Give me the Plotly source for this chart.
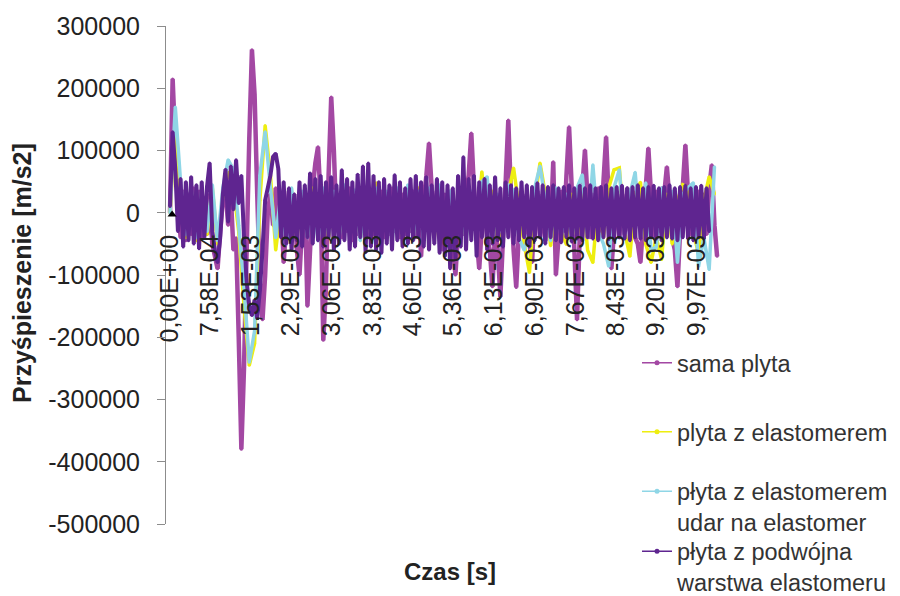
import plotly.graph_objects as go

# ---------------- data (values in thousands of m/s2) ----------------
DT_FINE = 5e-5      # sampling step of "sama plyta" and "podwojna" series [s]
DT_COARSE = 1e-4    # sampling step of the two elastomer series [s]

SERIES_NAMES = [
    "sama plyta",
    "plyta z elastomerem",
    "płyta z elastomerem<br>udar na elastomer",
    "płyta z podwójna<br>warstwa elastomeru",
]

sama_plyta_k = [
    0, 215, 110, 20, -40, 35, -45, 30, -35, 40,
    -30, 35, -40, 25, -35, 30, -50, -70, -90, -30,
    20, 40, -20, 30, -60, -40, -200, -380, -250, -60,
    120, 262, 190, 30, -110, -172, -100, 0, 30, -20,
    40, -30, 25, -80, -20, 35, -40, 30, -60, -100,
    -20, 30, -150, -60, 40, 80, 106, 20, -205, -120,
    60, 186, 100, -20, 30, -40, 35, -30, 40, -45,
    30, -35, 40, -30, 35, -40, 30, -35, 40, -30,
    35, -40, 30, -35, 40, -30, 35, -40, 30, -35,
    40, -30, 35, -40, 30, -70, 20, 60, 112, 40,
    -30, 35, -40, -60, 30, -45, 35, -50, -100, -30,
    40, -35, 30, 60, 128, 40, -40, -90, -20, 30,
    -40, -60, -119, -30, -60, -135, -40, 50, 149, 30,
    -60, -120, -30, 35, -40, 30, -50, -80, 20, 35,
    -40, 30, -45, 30, -30, 82, -100, -40, 35, -30,
    60, 138, 40, -60, -172, -40, 40, 101, 20, -40,
    30, -35, 40, -30, 50, 122, 20, -90, -30, 35,
    -40, 30, -35, 40, -30, 35, -40, -50, -80, -20,
    40, 104, 30, -40, 35, -30, 40, 30, 74, 20,
    -40, -60, -119, -30, 40, 109, 30, -35, 40, -30,
    35, -40, 30, -35, 40, 77, -20, -70,
]

plyta_elastomer_k = [
    0, 140, 30, -40, 35, -45, 30, -35, 40, -50,
    30, 65, 40, -30, -150, -245, -210, 20, 140, 60,
    -60, 10, -30, 35, -40, 30, -35, 40, -30, 35,
    -40, 30, -35, 40, -30, 35, -40, 30, -35, 48,
    -43, 30, -35, 35, -40, 30, -35, 40, -30, 35,
    -40, 42, -35, 30, -45, 35, -40, 30, -35, 66,
    -20, 35, -40, -32, 30, 72, 10, -50, -96, 20,
    80, 30, -53, 20, -30, -51, 30, -40, 40, -60,
    -80, 20, -40, 40, 69, 72, -30, -70, 30, 49,
    -50, -80, -40, -75, 30, -50, 20, 45, 40, -30,
    -67, 20, 58, 30,
]

udar_na_elastomer_k = [
    0, 170, 50, -35, 40, -40, 35, -30, 45, -45,
    40, 85, 70, -20, -120, -240, -190, 60, 130, 40,
    -40, 30, -50, 40, -35, 35, -40, 30, -45, 40,
    -35, 35, -40, 45, -30, 37, -45, 40, -35, 40,
    -40, 35, -45, 40, -35, 45, -40, 35, -45, 40,
    -35, 45, -40, 35, -50, 40, -45, 35, -40, 50,
    58, -48, 30, -40, 45, 35, -40, -60, -30, 40,
    75, 20, -45, 40, -40, 30, -45, 40, 61, -40,
    77, -30, -50, -86, 40, 69, -35, 30, 65, -40,
    48, -60, -55, 40, -40, 35, -80, 30, 40, 48,
    -86, -40, -91, 74,
]

podwojna_warstwa_k = [
    10, 130, 70, -30, 55, -55, 50, -45, 58, -50,
    45, -58, 50, -40, 42, 80, -30, -60, -80, -40,
    30, 70, -15, 75, 5, 85, 15, 60, -40, -110,
    -150, -165, -140, -170, -125, -60, 20, 40, 60, 90,
    95, 70, -40, 50, -50, 40, -60, 30, -45, 50,
    -55, 45, -40, 64, -50, 55, -45, 60, -55, 50,
    -40, 58, -60, 45, -50, 69, -45, 55, -60, 50,
    -55, 62, -40, 75, -64, 80, -55, 60, -60, 50,
    -65, 55, -50, 45, -60, 61, -45, 50, -55, 40,
    -50, 55, -45, 60, -40, 50, -55, 58, -60, 45,
    -50, 55, -65, 50, -70, 45, -90, 40, -75, 60,
    -55, 90, -60, 55, -45, 60, -70, 50, -40, 55,
    -60, 45, -50, 58, -45, 40, -55, 50, -40, 45,
    -50, 40, -45, 50, -40, 45, -55, 42, -45, 48,
    -40, 45, -50, 42, -40, 45, -45, 40, -48, 42,
    -40, 45, -47, 40, -42, 44, -45, 40, -40, 45,
    -42, 40, -45, 42, -40, 45, -43, 40, -45, 42,
    -40, 44, -42, 40, -45, 42, -40, 45, -42, 40,
    -45, 42, -40, 44, -42, 40, -45, 42, -40, 45,
    -42, 40, -45, 42, -40, 44, -42, 40, -45, 42,
    -40, 44, -42, 40, -30,
]

X_TICK_VALUES = [0.0, 7.58e-4, 1.53e-3, 2.29e-3, 3.06e-3, 3.83e-3, 4.60e-3,
                 5.36e-3, 6.13e-3, 6.90e-3, 7.67e-3, 8.43e-3, 9.20e-3, 9.97e-3]
X_TICK_LABELS = ["0,00E+00", "7,58E-04", "1,53E-03", "2,29E-03", "3,06E-03",
                 "3,83E-03", "4,60E-03", "5,36E-03", "6,13E-03", "6,90E-03",
                 "7,67E-03", "8,43E-03", "9,20E-03", "9,97E-03"]
Y_TICK_VALUES = [300000, 200000, 100000, 0, -100000, -200000, -300000, -400000, -500000]

COLORS = ["#a348a3", "#eeee10", "#8fd6e6", "#5f2590"]
FONT = "Liberation Sans, Arial, sans-serif"


def times(n, step):
    return [i * step for i in range(n)]


def to_ms2(vals_k):
    return [v * 1000 for v in vals_k]


series = [
    (sama_plyta_k, DT_FINE),
    (plyta_elastomer_k, DT_COARSE),
    (udar_na_elastomer_k, DT_COARSE),
    (podwojna_warstwa_k, DT_FINE),
]

# ---------------- layout geometry ----------------
W, H = 900, 596
L, R, T, B = 166, 180, 26, 72
PW = W - L - R
PH = H - T - B
PX_PER_S = 52860.0           # horizontal scale (px per second)
X0_PX = 170                  # pixel of t = 0
x_range = [(L - X0_PX) / PX_PER_S, (W - R - X0_PX) / PX_PER_S]


def px_to_paper_x(px):
    return (px - L) / PW


def px_to_paper_y(py):
    return (H - B - py) / PH


fig = go.Figure()

legend_ids = ["legend", "legend2", "legend3", "legend4"]
widths = [4.5, 3.5, 3.5, 4.0]
for (vals, step), name, color, w in zip(series, SERIES_NAMES, COLORS, widths):
    fig.add_trace(go.Scatter(
        x=times(len(vals), step), y=to_ms2(vals),
        mode="lines+markers", name=name.replace("<br>", " "),
        line=dict(color=color, width=w, simplify=False),
        marker=dict(color=color, size=3),
        showlegend=False,
    ))

# legend entries (thin line with a dot, like the original key)
for name, color, lg in zip(SERIES_NAMES, COLORS, legend_ids):
    fig.add_trace(go.Scatter(
        x=[None], y=[None], mode="lines+markers", name=name,
        line=dict(color=color, width=1.5),
        marker=dict(color=color, size=5),
        legend=lg, showlegend=True,
    ))

# small black marker at the origin
fig.add_trace(go.Scatter(x=[0.00004], y=[-3000], mode="markers",
                         marker=dict(symbol="triangle-up", size=8, color="black"),
                         showlegend=False, hoverinfo="skip"))

legend_centers_px = [363, 432, 507, 567]
legend_common = dict(
    x=px_to_paper_x(637), xanchor="left", yanchor="middle",
    bgcolor="rgba(0,0,0,0)", borderwidth=0,
    font=dict(family=FONT, size=23.5, color="#333333"),
    valign="top", itemwidth=30, tracegroupgap=0,
)
layout_legends = {}
for lg, cy in zip(legend_ids, legend_centers_px):
    layout_legends[lg] = dict(legend_common, y=px_to_paper_y(cy))

zero_pos = (0 - (-500000)) / 800000.0

fig.update_layout(
    template="none",
    width=W, height=H,
    margin=dict(l=L, r=R, t=T, b=B, pad=0, autoexpand=False),
    paper_bgcolor="white", plot_bgcolor="white",
    showlegend=True,
    font=dict(family=FONT, color="#333333"),
    xaxis=dict(
        range=x_range, anchor="free", position=zero_pos,
        tickmode="array", tickvals=X_TICK_VALUES, ticktext=X_TICK_LABELS,
        tickangle=-90, ticks="", ticklabelstandoff=16,
        tickfont=dict(family=FONT, size=25, color="#222222"),
        showline=False,
        showgrid=False, zeroline=False, automargin=False,
        layer="above traces",
    ),
    yaxis=dict(
        range=[-500000, 300000],
        tickmode="array", tickvals=Y_TICK_VALUES,
        ticktext=[str(v) for v in Y_TICK_VALUES],
        ticks="outside", ticklen=8, tickcolor="#8c8c8c", tickwidth=1,
        ticklabelstandoff=12,
        tickfont=dict(family=FONT, size=25, color="#222222"),
        showline=True, linecolor="#8c8c8c", linewidth=1,
        showgrid=False, zeroline=False, automargin=False,
    ),
    annotations=[
        dict(text="<b>Przyśpieszenie [m/s2]</b>", textangle=-90,
             x=px_to_paper_x(22), y=px_to_paper_y(273), xref="paper", yref="paper",
             xanchor="center", yanchor="middle", showarrow=False,
             font=dict(family=FONT, size=25, color="#222222")),
        dict(text="<b>Czas [s]</b>",
             x=px_to_paper_x(450), y=px_to_paper_y(571), xref="paper", yref="paper",
             xanchor="center", yanchor="middle", showarrow=False,
             font=dict(family=FONT, size=24, color="#222222")),
    ],
    **layout_legends,
)

fig.write_html("out.html")
